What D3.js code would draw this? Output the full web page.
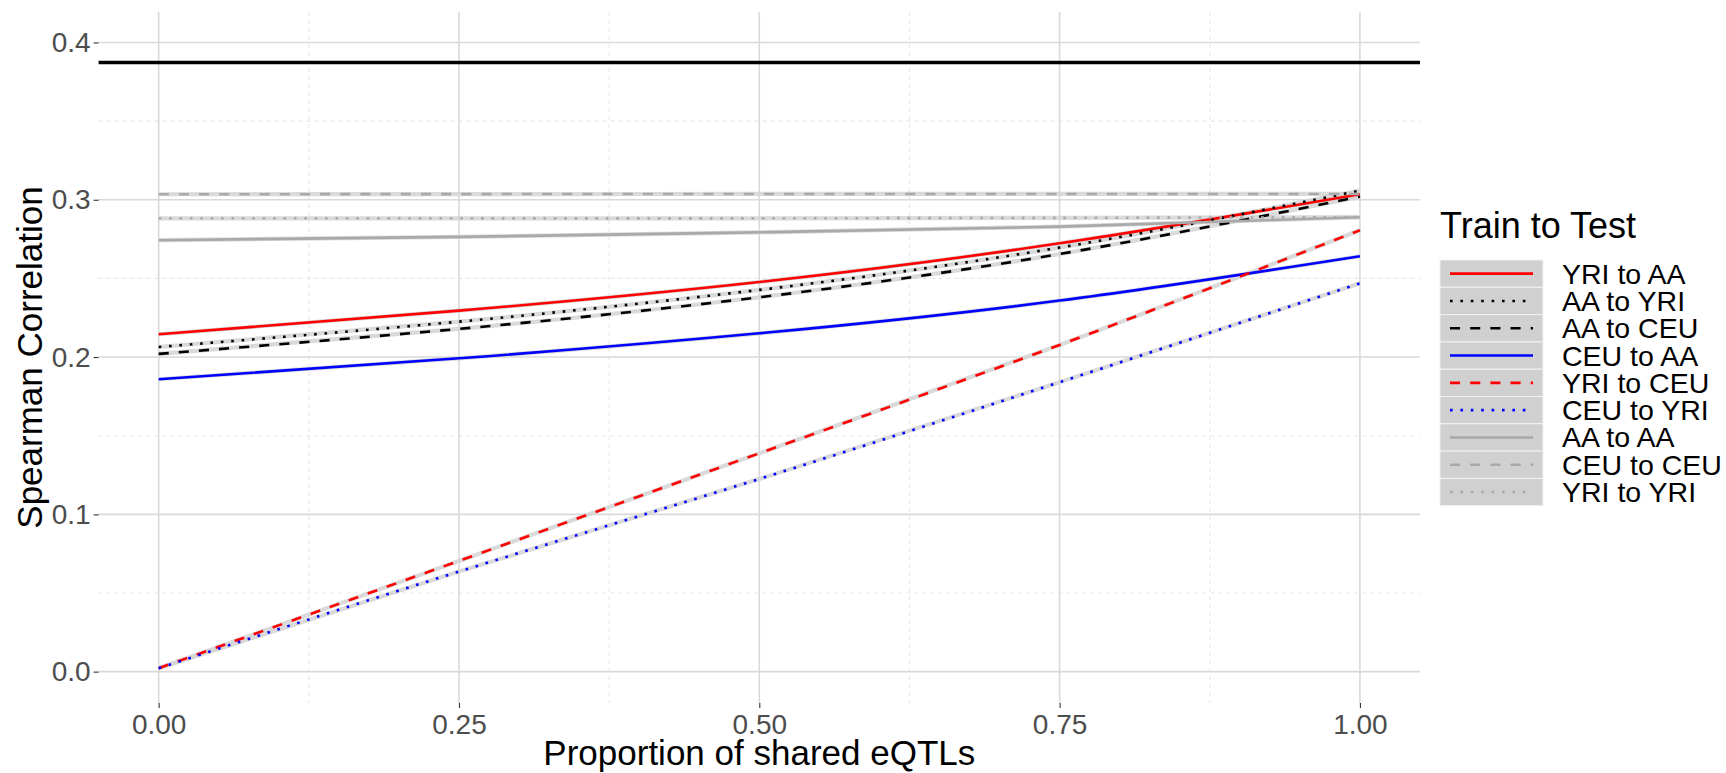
<!DOCTYPE html>
<html>
<head>
<meta charset="utf-8">
<script src="https://cdn.jsdelivr.net/npm/d3@7"></script>
<style>
  html, body { margin: 0; padding: 0; background: #ffffff; }
  svg { display: block; font-family: "Liberation Sans", Arial, sans-serif; }
</style>
</head>
<body>
<svg id="chart" width="1726" height="773"></svg>
<script>
// Proportion of shared eQTLs (x positions of the smoothed fits)
const proportions = [0, 0.25, 0.5, 0.75, 1];

// Train-to-test series, in legend order
const seriesNames = [
  "YRI to AA", "AA to YRI", "AA to CEU", "CEU to AA", "YRI to CEU",
  "CEU to YRI", "AA to AA", "CEU to CEU", "YRI to YRI"
];

// Spearman correlation of each series at the proportions above
const yriToAA   = [0.2145, 0.2295, 0.2477, 0.2723, 0.3035];
const aaToYRI   = [0.2064, 0.2225, 0.2427, 0.2696, 0.3058];
const aaToCEU   = [0.2020, 0.2179, 0.2380, 0.2655, 0.3020];
const ceuToAA   = [0.1859, 0.1992, 0.2151, 0.2359, 0.2641];
const yriToCEU  = [0.0022, 0.0704, 0.1388, 0.2077, 0.2806];
const ceuToYRI  = [0.0022, 0.0636, 0.1225, 0.1840, 0.2469];
const aaToAA    = [0.2743, 0.2764, 0.2793, 0.2829, 0.2889];
const ceuToCEU  = [0.3035, 0.3036, 0.3037, 0.3037, 0.3037];
const yriToYRI  = [0.2882, 0.2882, 0.2882, 0.2885, 0.2889];

// Reference level drawn as a horizontal line across the panel
const referenceLevel = 0.3873;

// Tick values
const xTicks = [0, 0.25, 0.5, 0.75, 1];
const xTickLabels = ["0.00", "0.25", "0.50", "0.75", "1.00"];
const xMinor = [0.125, 0.375, 0.625, 0.875];
const yTicks = [0, 0.1, 0.2, 0.3, 0.4];
const yTickLabels = ["0.0", "0.1", "0.2", "0.3", "0.4"];
const yMinor = [0.05, 0.15, 0.25, 0.35];

const seriesValues = [yriToAA, aaToYRI, aaToCEU, ceuToAA, yriToCEU, ceuToYRI, aaToAA, ceuToCEU, yriToYRI];
const seriesColors = ["#ff0000", "#000000", "#000000", "#0000ff", "#ff0000", "#0000ff", "#a9a9a9", "#a9a9a9", "#a9a9a9"];
const seriesDash   = ["solid", "dotted", "dashed", "solid", "dashed", "dotted", "solid", "dashed", "dotted"];

const lineWidth = 2.6;
const dashArray = {
  solid: null,
  dashed: `${4 * lineWidth * 0.97},${4 * lineWidth * 0.97}`,
  dotted: `${lineWidth},${3 * lineWidth}`
};

const series = seriesNames.map((name, i) => ({
  name,
  color: seriesColors[i],
  dash: seriesDash[i],
  points: proportions.map((p, j) => ({ x: p, y: seriesValues[i][j] }))
}));

// Panel geometry
const panel = { left: 98.6, right: 1420, top: 12, bottom: 703 };

const x = d3.scaleLinear().domain([-0.05, 1.05]).range([panel.left, panel.right]);
const y = d3.scaleLinear().domain([-0.01994, 0.41937]).range([panel.bottom, panel.top]);

const svg = d3.select("#chart");

// Grid
const grid = svg.append("g");
grid.selectAll(".ymin").data(yMinor).join("line")
  .attr("x1", panel.left).attr("x2", panel.right)
  .attr("y1", d => y(d)).attr("y2", d => y(d))
  .attr("stroke", "#e6e6e6").attr("stroke-width", 1.1).attr("stroke-dasharray", "4,4");
grid.selectAll(".xmin").data(xMinor).join("line")
  .attr("y1", panel.top).attr("y2", panel.bottom)
  .attr("x1", d => x(d)).attr("x2", d => x(d))
  .attr("stroke", "#e6e6e6").attr("stroke-width", 1.1).attr("stroke-dasharray", "4,4");
grid.selectAll(".ymaj").data(yTicks).join("line")
  .attr("x1", panel.left).attr("x2", panel.right)
  .attr("y1", d => y(d)).attr("y2", d => y(d))
  .attr("stroke", "#d9d9d9").attr("stroke-width", 1.6);
grid.selectAll(".xmaj").data(xTicks).join("line")
  .attr("y1", panel.top).attr("y2", panel.bottom)
  .attr("x1", d => x(d)).attr("x2", d => x(d))
  .attr("stroke", "#d9d9d9").attr("stroke-width", 1.6);

// Axes
const xAxis = d3.axisBottom(x).tickValues(xTicks)
  .tickFormat((d, i) => xTickLabels[i]).tickSize(5).tickPadding(6);
const gx = svg.append("g").attr("transform", `translate(0,${panel.bottom})`).call(xAxis);
gx.select(".domain").remove();
gx.selectAll(".tick line").attr("stroke", "#333333").attr("stroke-width", 1.1);
gx.selectAll(".tick text").attr("fill", "#4d4d4d").attr("font-size", 28)
  .attr("font-family", "Liberation Sans, Arial, sans-serif");

const yAxis = d3.axisLeft(y).tickValues(yTicks)
  .tickFormat((d, i) => yTickLabels[i]).tickSize(5).tickPadding(3);
const gy = svg.append("g").attr("transform", `translate(${panel.left},0)`).call(yAxis);
gy.select(".domain").remove();
gy.selectAll(".tick line").attr("stroke", "#333333").attr("stroke-width", 1.1);
gy.selectAll(".tick text").attr("fill", "#4d4d4d").attr("font-size", 28)
  .attr("font-family", "Liberation Sans, Arial, sans-serif");

// Confidence bands under the fitted lines
const line = d3.line().x(d => x(d.x)).y(d => y(d.y)).curve(d3.curveNatural);
const bands = svg.append("g");
series.forEach(s => {
  bands.append("path").attr("d", line(s.points))
    .attr("fill", "none").attr("stroke", "#d4d4d4").attr("stroke-width", 4.2)
    .attr("stroke-opacity", 0.85);
});

// Fitted lines
const lines = svg.append("g");
series.forEach(s => {
  lines.append("path").attr("d", line(s.points))
    .attr("fill", "none").attr("stroke", s.color).attr("stroke-width", lineWidth)
    .attr("stroke-dasharray", dashArray[s.dash]);
});

// Reference line
svg.append("line")
  .attr("x1", panel.left).attr("x2", panel.right)
  .attr("y1", y(referenceLevel)).attr("y2", y(referenceLevel))
  .attr("stroke", "#000000").attr("stroke-width", 3.4);

// Axis titles
svg.append("text")
  .attr("x", (panel.left + panel.right) / 2).attr("y", 765)
  .attr("text-anchor", "middle").attr("font-size", 35).attr("fill", "#000")
  .text("Proportion of shared eQTLs");
svg.append("text")
  .attr("transform", `translate(42,${(panel.top + panel.bottom) / 2}) rotate(-90)`)
  .attr("text-anchor", "middle").attr("font-size", 35).attr("fill", "#000")
  .text("Spearman Correlation");

// Legend
const legend = svg.append("g");
const keyX = 1440, keyW = 103, keyTop = 260, keyH = 27.3;
legend.append("text").attr("x", keyX).attr("y", 238)
  .attr("font-size", 36).attr("fill", "#000").text("Train to Test");

series.forEach((s, i) => {
  const ky = keyTop + i * keyH;
  legend.append("rect").attr("x", keyX).attr("y", ky)
    .attr("width", keyW).attr("height", keyH)
    .attr("fill", "#d0d0d0").attr("stroke", "#f2f2f2").attr("stroke-width", 1);
  legend.append("line")
    .attr("x1", keyX + 10).attr("x2", keyX + 93)
    .attr("y1", ky + keyH / 2).attr("y2", ky + keyH / 2)
    .attr("stroke", s.color).attr("stroke-width", lineWidth)
    .attr("stroke-dasharray", dashArray[s.dash]);
  legend.append("text").attr("x", 1562).attr("y", ky + keyH / 2 + 10)
    .attr("font-size", 28.5).attr("fill", "#000").text(s.name);
});
</script>
</body>
</html>
